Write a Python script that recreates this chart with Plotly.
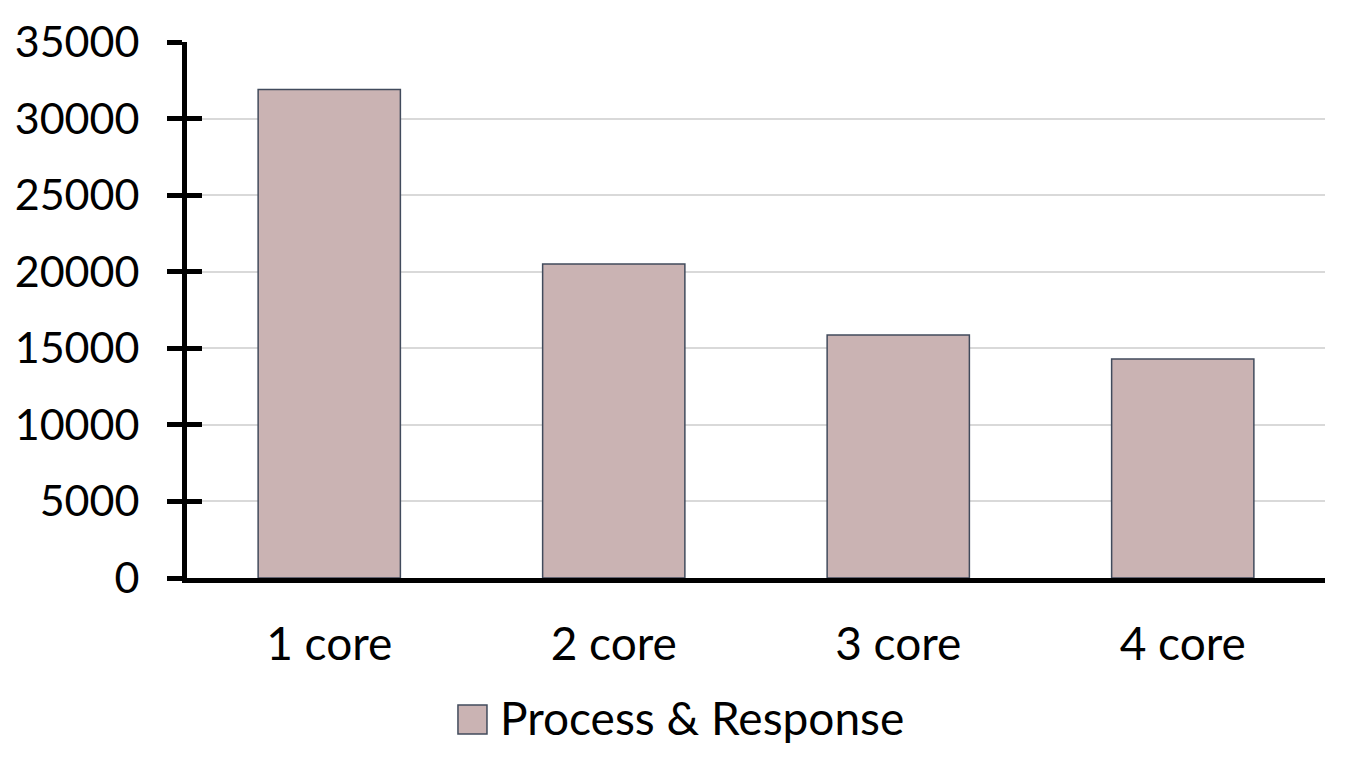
import plotly.graph_objects as go

categories = ["1 core", "2 core", "3 core", "4 core"]
values = [31900, 20500, 15870, 14300]
series_name = "Process & Response"
y_ticks = [0, 5000, 10000, 15000, 20000, 25000, 30000, 35000]
y_tick_labels = [str(v) for v in y_ticks]

FONT = "Lato, 'Open Sans', sans-serif"
BAR_FILL = "#CAB3B3"
BAR_EDGE = "#414B5C"

fig = go.Figure()
fig.add_trace(go.Bar(
    x=categories, y=values, name=series_name, showlegend=False,
    marker=dict(color=BAR_FILL, line=dict(color=BAR_EDGE, width=1.5)),
))
# invisible helper trace on overlay axis to render inner tick halves
fig.add_trace(go.Scatter(x=categories, y=values, yaxis="y2", mode="none",
                         showlegend=False, hoverinfo="skip"))

# custom legend (large swatch)
fig.add_shape(type="rect", xref="paper", yref="paper",
              x0=0.2381, x1=0.2636, y0=-0.291, y1=-0.237,
              fillcolor=BAR_FILL, line=dict(color=BAR_EDGE, width=1.5))
fig.add_annotation(text=series_name, xref="paper", yref="paper", x=0.273, y=-0.261,
                   xanchor="left", yanchor="middle", showarrow=False,
                   font=dict(size=46, family=FONT, color="black"))

fig.update_layout(
    width=1329, height=760,
    paper_bgcolor="white", plot_bgcolor="white",
    margin=dict(l=179, r=12, t=34, b=190, autoexpand=False),
    font=dict(family=FONT, size=43, color="black"),
    bargap=0.5,
    showlegend=False,
    xaxis=dict(showgrid=False, showline=True, linecolor="black", linewidth=5,
               ticks="", ticklabelstandoff=22, tickfont=dict(size=46), automargin=False),
    yaxis=dict(range=[0, 35000], tickvals=y_ticks, ticktext=y_tick_labels,
               showgrid=True, gridcolor="#D9D9D9",
               gridwidth=2, showline=True, linecolor="black", linewidth=5,
               ticks="outside", ticklen=15, tickwidth=5, tickcolor="black",
               zeroline=False, ticklabelstandoff=19, tickfont=dict(size=43),
               automargin=False),
    yaxis2=dict(range=[0, 35000], tickvals=y_ticks, overlaying="y", side="left",
                showgrid=False, showline=False, ticks="inside", ticklen=15, tickwidth=5,
                tickcolor="black", showticklabels=False, zeroline=False, automargin=False),
)

fig.write_html("out.html")
